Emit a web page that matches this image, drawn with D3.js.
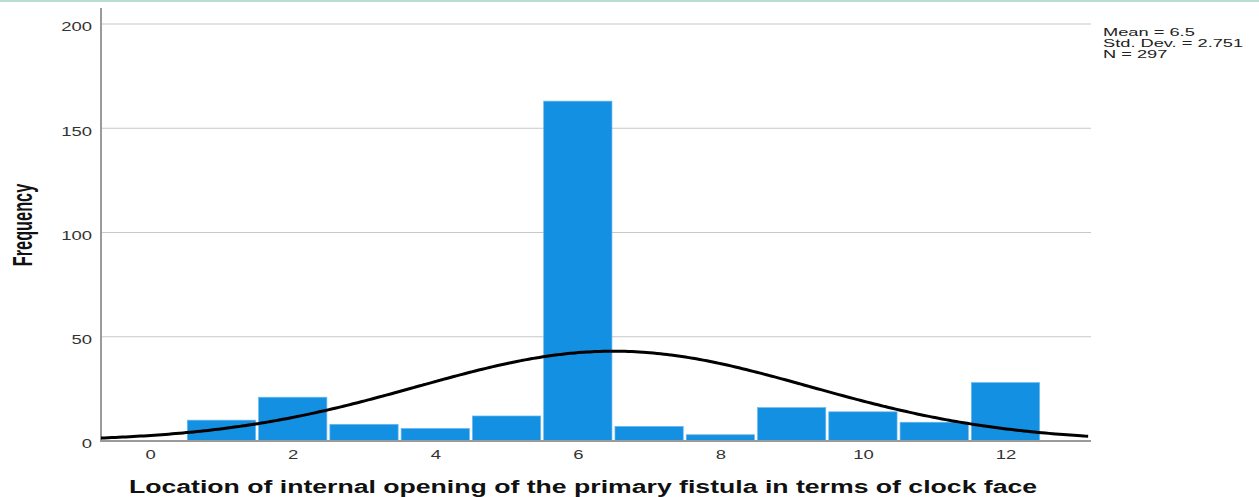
<!DOCTYPE html>
<html>
<head>
<meta charset="utf-8">
<script src="https://cdn.jsdelivr.net/npm/d3@7"></script>
<style>
  html, body { margin: 0; padding: 0; background: #fff; }
  svg { display: block; }
</style>
</head>
<body>
<svg id="chart" width="1259" height="497"></svg>
<script>
// Clock-face positions (hours) and their frequencies
const hours = [1, 2, 3, 4, 5, 6, 7, 8, 9, 10, 11, 12];
const counts = [10, 21, 8, 6, 12, 163, 7, 3, 16, 14, 9, 28];
const xTicks = [0, 2, 4, 6, 8, 10, 12];
const yTicks = [0, 50, 100, 150, 200];
const statLines = ["Mean = 6.5", "Std. Dev. = 2.751", "N = 297"];
const mean = 6.5, sd = 2.751, n = 297;

const svg = d3.select("#chart");
const plotLeft = 101, plotRight = 1091, plotTop = 24, plotBottom = 441;
const SX = 1.48;               // horizontal stretch applied to all lettering
const FONT = "Liberation Sans, Arial, sans-serif";

const x = d3.scaleLinear().domain([-0.69, 13.2]).range([plotLeft, plotRight]);
const y = d3.scaleLinear().domain([0, 200]).range([plotBottom, plotTop]);

// thin accent line along the top edge
svg.append("rect").attr("x", 0).attr("y", 0).attr("width", 1259).attr("height", 2)
  .attr("fill", "#b9dfcf");

// horizontal gridlines
svg.append("g").selectAll("line").data(yTicks.filter(d => d > 0)).join("line")
  .attr("x1", plotLeft).attr("x2", plotRight)
  .attr("y1", d => y(d)).attr("y2", d => y(d))
  .attr("stroke", "#c8c8c8").attr("stroke-width", 1.2);

// histogram bars
svg.append("g").selectAll("rect").data(hours).join("rect")
  .attr("x", (d) => x(d - 0.5) + 1.5)
  .attr("width", (d) => x(d + 0.5) - x(d - 0.5) - 3)
  .attr("y", (d, i) => y(counts[i]))
  .attr("height", (d, i) => y(0) - y(counts[i]))
  .attr("fill", "#1490e3")
  .attr("stroke", "#6ab8ef").attr("stroke-width", 0.7);

// y axis
const yAxis = svg.append("g").attr("transform", `translate(${plotLeft},0)`)
  .call(d3.axisLeft(y).tickValues(yTicks).tickSize(0).tickPadding(0));
yAxis.select(".domain").remove();
yAxis.selectAll("text")
  .attr("font-family", FONT).attr("font-size", 12.5).attr("fill", "#333")
  .attr("x", -9 / SX).attr("dy", "0.55em")
  .attr("transform", `scale(${SX},1)`);
svg.append("line").attr("x1", plotLeft).attr("x2", plotLeft).attr("y1", 8).attr("y2", plotBottom + 1)
  .attr("stroke", "#9a9a9a").attr("stroke-width", 2);

// x axis
const xAxis = svg.append("g").attr("transform", `translate(0,${plotBottom})`)
  .call(d3.axisBottom(x).tickValues(xTicks).tickSize(0).tickPadding(9).tickFormat(d3.format("d")));
xAxis.select(".domain").remove();
xAxis.selectAll("text")
  .attr("font-family", FONT).attr("font-size", 12.5).attr("fill", "#333")
  .attr("transform", `scale(${SX},1)`);
svg.append("line").attr("x1", plotLeft).attr("x2", plotRight).attr("y1", plotBottom).attr("y2", plotBottom)
  .attr("stroke", "#9a9a9a").attr("stroke-width", 2);

// fitted normal curve scaled to counts (bin width 1)
const pdf = v => n / (sd * Math.sqrt(2 * Math.PI)) * Math.exp(-0.5 * ((v - mean) / sd) ** 2);
const curvePts = d3.range(-0.69, 13.2001, 0.05).map(v => [v, pdf(v)]);
svg.append("path").datum(curvePts)
  .attr("d", d3.line().x(d => x(d[0])).y(d => y(d[1])).curve(d3.curveBasis))
  .attr("fill", "none").attr("stroke", "#000").attr("stroke-width", 3);

// summary statistics
svg.append("g").attr("transform", `translate(1103,0) scale(1.66,1)`)
  .selectAll("text").data(statLines).join("text")
  .attr("x", 0).attr("y", (d, i) => 36 + i * 10.8)
  .attr("font-family", FONT).attr("font-size", 11)
  .attr("fill", "#222").text(d => d);

// axis titles
svg.append("text").attr("transform", `translate(583,493) scale(${SX},1)`)
  .attr("text-anchor", "middle")
  .attr("font-family", FONT).attr("font-weight", "bold")
  .attr("font-size", 18).attr("fill", "#111")
  .text("Location of internal opening of the primary fistula in terms of clock face");

svg.append("text").attr("transform", `translate(32,225) rotate(-90) scale(1,1.72)`)
  .attr("text-anchor", "middle")
  .attr("font-family", "Liberation Sans Narrow, Arial Narrow, sans-serif").attr("font-weight", "bold")
  .attr("font-size", 16.3).attr("fill", "#111")
  .text("Frequency");
</script>
</body>
</html>
